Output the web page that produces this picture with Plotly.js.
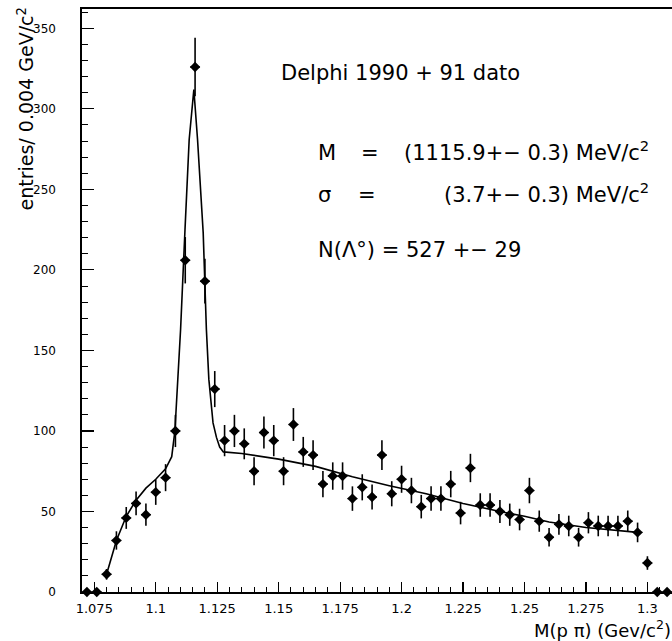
<!DOCTYPE html>
<html>
<head>
<meta charset="utf-8">
<script src="https://cdn.plot.ly/plotly-3.0.1.min.js"></script>
<style>html,body{margin:0;padding:0;background:#fff;}#chart{width:672px;height:641px;}</style>
</head>
<body>
<div id="chart"></div>
<script>
// Bin centres of the p-pi invariant mass histogram (GeV/c^2)
const massBins = [1.072,1.076,1.080,1.084,1.088,1.092,1.096,1.100,1.104,1.108,
  1.112,1.116,1.120,1.124,1.128,1.132,1.136,1.140,1.144,1.148,
  1.152,1.156,1.160,1.164,1.168,1.172,1.176,1.180,1.184,1.188,
  1.192,1.196,1.200,1.204,1.208,1.212,1.216,1.220,1.224,1.228,
  1.232,1.236,1.240,1.244,1.248,1.252,1.256,1.260,1.264,1.268,
  1.272,1.276,1.280,1.284,1.288,1.292,1.296,1.300,1.304,1.308];
// Entries per 0.004 GeV bin
const entries = [0,0,11,32,46,55,48,62,71,100,
  206,326,193,126,94,100,92,75,99,94,
  75,104,87,85,67,72,72,58,65,59,
  85,61,70,63,53,58,58,67,49,77,
  54,54,50,48,45,63,44,34,42,41,
  34,43,41,41,41,44,37,18,0,0];
// Statistical errors
const entryErrors = [0,0,3.3,5.7,6.8,7.4,6.9,7.9,8.4,10,
  14.4,18.1,13.9,11.2,9.7,10,9.6,8.7,9.9,9.7,
  8.7,10.2,9.3,9.2,8.2,8.5,8.5,7.6,8.1,7.7,
  9.2,7.8,8.4,7.9,7.3,7.6,7.6,8.2,7.0,8.8,
  7.3,7.3,7.1,6.9,6.7,7.9,6.6,5.8,6.5,6.4,
  5.8,6.6,6.4,6.4,6.4,6.6,6.1,4.2,0,0];
const binHalfWidth = [0.002];
// Fitted curve (Gaussian + background)
const fitMass = [1.0800,1.0840,1.0880,1.0920,1.0960,1.1000,1.1040,1.1065,1.1078,1.1090,
  1.1101,1.1119,1.1136,1.1155,1.1170,1.1193,1.1206,1.1216,1.1233,1.1247,
  1.1260,1.1275,1.1350,1.1500,1.1650,1.1800,1.1950,1.2100,1.2250,1.2400,
  1.2500,1.2600,1.2750,1.2960];
const fitEntries = [11,32,47,57,64.5,70,76.5,84,100,130,
  163,225,281,312,281,223,163,132,105,96,
  90,87,86,82.5,78,71.5,66,61,55,50,
  47,43.5,40,37];
const xTickVals = [1.075,1.1,1.125,1.15,1.175,1.2,1.225,1.25,1.275,1.3];
const xTickText = ['1.075','1.1','1.125','1.15','1.175','1.2','1.225','1.25','1.275','1.3'];
const yTickVals = [0,50,100,150,200,250,300,350];

const F = 'DejaVu Sans, Liberation Sans, sans-serif';

const traces = [
  {
    x: fitMass, y: fitEntries, type: 'scatter', mode: 'lines',
    line: {color: '#000', width: 1.6}, hoverinfo: 'skip', showlegend: false
  },
  {
    x: massBins, y: entries, type: 'scatter', mode: 'markers',
    marker: {symbol: 'diamond', size: 8, color: '#000'},
    error_y: {type: 'data', array: entryErrors, visible: true, color: '#000', thickness: 1.6, width: 0},
    error_x: {type: 'constant', value: binHalfWidth[0], visible: true, color: '#000', thickness: 1.3, width: 0},
    cliponaxis: false, showlegend: false
  }
];

const L = 82, W = 590, T = 9, H = 583;
const px = v => (v - L) / W;
const py = v => (T + H - v) / H;

const ann = (text, x, y, xanchor, size, extra) => Object.assign({
  text: text, xref: 'paper', yref: 'paper', x: px(x), y: py(y),
  xanchor: xanchor, yanchor: 'middle', showarrow: false,
  font: {family: F, size: size, color: '#000'}
}, extra || {});

const layout = {
  width: 672, height: 641,
  margin: {l: L, r: 672 - L - W, t: T, b: 641 - T - H, pad: 0},
  paper_bgcolor: '#fff', plot_bgcolor: '#fff',
  showlegend: false,
  xaxis: {
    range: [1.07, 1.31], showgrid: false, zeroline: false,
    showline: true, linecolor: '#000', linewidth: 2, mirror: true,
    tickmode: 'array', tickvals: xTickVals, ticktext: xTickText,
    ticks: 'inside', ticklen: 10, tickwidth: 1.2, tickcolor: '#000',
    minor: {dtick: 0.005, tick0: 1.075, ticks: 'inside', ticklen: 5, tickwidth: 1, tickcolor: '#000', showgrid: false},
    tickfont: {family: F, size: 13, color: '#000'},
    ticklabelstandoff: 3
  },
  yaxis: {
    range: [0, 362], showgrid: false, zeroline: false,
    showline: true, linecolor: '#000', linewidth: 1.6, mirror: false,
    tickmode: 'array', tickvals: yTickVals,
    ticks: 'inside', ticklen: 12, tickwidth: 1.2, tickcolor: '#000',
    minor: {dtick: 10, ticks: 'inside', ticklen: 6, tickwidth: 1, tickcolor: '#000', showgrid: false},
    tickfont: {family: F, size: 12, color: '#000'},
    ticklabelstandoff: 22
  },
  annotations: [
    ann('Delphi 1990 + 91 dato', 279, 73, 'left', 21),
    ann('M', 316, 153, 'left', 21),
    ann('=', 370, 153, 'center', 21),
    ann('(1115.9+− 0.3) MeV/c<sup>2</sup>', 651, 151, 'right', 21),
    ann('σ', 316, 195, 'left', 21),
    ann('=', 367, 195, 'center', 21),
    ann('(3.7+− 0.3) MeV/c<sup>2</sup>', 651, 193, 'right', 21),
    ann('N(Λ°) = 527 +− 29', 316, 250, 'left', 21),
    ann('M(p π) (Gev/c<sup>2</sup>)', 673, 629, 'right', 18),
    {
      text: 'entries/ 0.004 GeV/c<sup>2</sup>', xref: 'paper', yref: 'paper',
      x: px(25), y: py(6), xanchor: 'center', yanchor: 'top', textangle: -90,
      showarrow: false, font: {family: F, size: 19, color: '#000'}
    }
  ]
};

Plotly.newPlot('chart', traces, layout, {displayModeBar: false, staticPlot: true});
</script>
</body>
</html>
